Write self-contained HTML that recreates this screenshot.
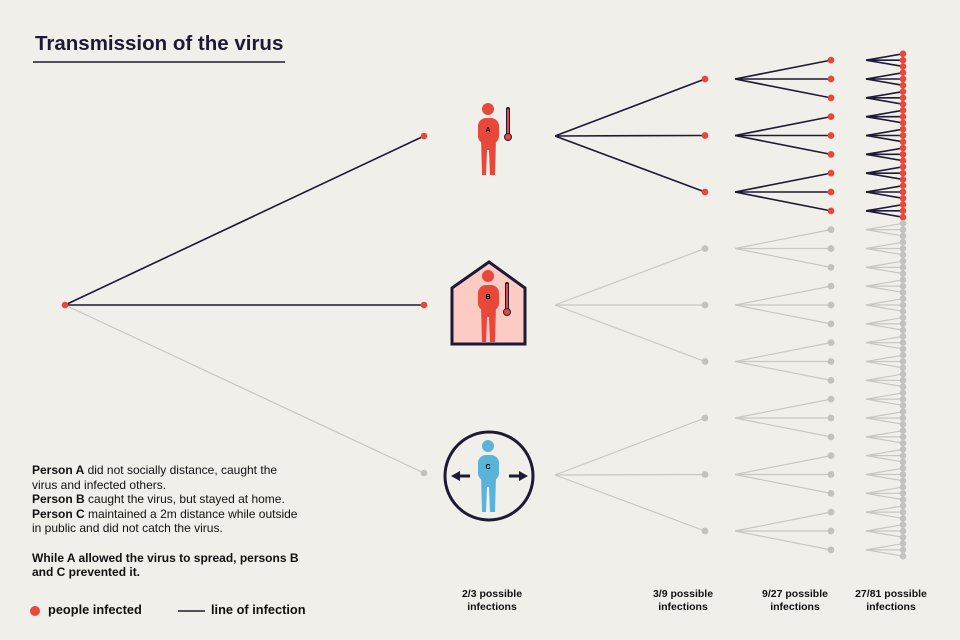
<!DOCTYPE html>
<html><head><meta charset="utf-8"><style>
html,body{margin:0;padding:0;background:#f1efea;}
body{width:960px;height:640px;overflow:hidden;position:relative;font-family:"Liberation Sans",sans-serif;color:#111;}
svg{position:absolute;left:0;top:0;}
.t{position:absolute;font-size:12px;line-height:14.6px;}
.lab{position:absolute;font-size:10.5px;font-weight:bold;text-align:center;line-height:12.5px;width:100px;}
</style></head><body>
<svg id="s" width="960" height="640" xmlns="http://www.w3.org/2000/svg">
<text x="35" y="50" font-family="Liberation Sans, sans-serif" font-weight="bold" font-size="20.5" fill="#1d1a35">Transmission of the virus</text>
<line x1="33" y1="62" x2="285" y2="62" stroke="#1d1a35" stroke-width="1.5"/>
<g id="g"></g>
<g fill="#e8483a">
<circle cx="488" cy="109" r="6"/>
<rect x="478" y="118" width="21" height="26" rx="8"/>
<polygon points="481,138 496,138 495,175 490,175 489,150 487,150 486,175 482,175"/>
</g>
<text x="488" y="132" font-size="7" font-weight="bold" text-anchor="middle" font-family="Liberation Sans,sans-serif">A</text>
<rect x="506" y="107" width="4" height="29" rx="2" fill="#1d1a35"/><rect x="507" y="109" width="2" height="26" fill="#e8483a"/><circle cx="508" cy="137" r="3.5" fill="#e8483a" stroke="#1d1a35" stroke-width="1"/>
<polygon points="452,288 489,262 525,288 525,344 452,344" fill="#fccbc4" stroke="#1d1a35" stroke-width="3"/>
<g fill="#e8483a">
<circle cx="488" cy="276" r="6"/>
<rect x="478" y="285" width="21" height="26" rx="8"/>
<polygon points="481,305 496,305 495,342 490,342 489,317 487,317 486,342 482,342"/>
</g>
<text x="488" y="299" font-size="7" font-weight="bold" text-anchor="middle" font-family="Liberation Sans,sans-serif">B</text>
<rect x="505" y="282" width="4" height="29" rx="2" fill="#1d1a35"/><rect x="506" y="284" width="2" height="26" fill="#e8483a"/><circle cx="507" cy="312" r="3.5" fill="#e8483a" stroke="#1d1a35" stroke-width="1"/>
<circle cx="489" cy="476" r="44" fill="none" stroke="#1d1a35" stroke-width="3"/>
<g fill="#5ab3d9">
<circle cx="488" cy="446" r="6"/>
<rect x="478" y="455" width="21" height="26" rx="8"/>
<polygon points="481,475 496,475 495,512 490,512 489,487 487,487 486,512 482,512"/>
</g>
<text x="488" y="469" font-size="7" font-weight="bold" text-anchor="middle" font-family="Liberation Sans,sans-serif">C</text>
<line x1="458" y1="476" x2="470" y2="476" stroke="#1d1a35" stroke-width="3"/><polygon points="451,476 460,471 460,481" fill="#1d1a35"/>
<line x1="509" y1="476" x2="521" y2="476" stroke="#1d1a35" stroke-width="3"/><polygon points="528,476 519,471 519,481" fill="#1d1a35"/>
<circle cx="35" cy="611" r="5" fill="#e8483a"/>
<line x1="178" y1="611" x2="205" y2="611" stroke="#1d1a35" stroke-width="1.5"/>
</svg>
<div class="t" style="left:32px;top:463px;">
<b>Person A</b> did not socially distance, caught the<br>virus and infected others.<br><b>Person B</b> caught the virus, but stayed at home.<br><b>Person C</b> maintained a 2m distance while outside<br>in public and did not catch the virus.<br><br><b>While A allowed the virus to spread, persons B<br>and C prevented it.</b></div>
<div class="t" style="left:48px;top:603px;font-weight:bold;font-size:12.8px;">people infected</div>
<div class="t" style="left:211px;top:603px;font-weight:bold;font-size:12.8px;">line of infection</div>
<div class="lab" style="left:442px;top:588px;">2/3 possible<br>infections</div>
<div class="lab" style="left:633px;top:588px;">3/9 possible<br>infections</div>
<div class="lab" style="left:745px;top:588px;">9/27 possible<br>infections</div>
<div class="lab" style="left:841px;top:588px;">27/81 possible<br>infections</div>
<script>
var g=document.getElementById('g'),h='';
var RED='#e8483a',DK='#1d1a35',GL='#c9c7c2',GD='#c4c2be';
function L(x1,y1,x2,y2,c){h+='<line x1="'+x1+'" y1="'+y1+'" x2="'+x2+'" y2="'+y2+'" stroke="'+c+'" stroke-width="'+(c==DK?1.6:1.2)+'"/>';}
function D(x,y,c,r){h+='<circle cx="'+x+'" cy="'+y+'" r="'+r+'" fill="'+c+'"/>';}
var l1=[136,305,473];
L(65,305,424,136,DK);L(65,305,424,305,DK);L(65,305,424,473,GL);
var dots=[];
for(var i=0;i<3;i++){dots.push([424,l1[i],i<2?RED:GD,3.3]);}
for(var i=0;i<9;i++){
 var y2=79+i*56.5, p=Math.floor(i/3), red=p==0;
 var c=red?DK:GL, dc=red?RED:GD;
 L(555,l1[p]+(p==2?2:0),705,y2,c);dots.push([705,y2,dc,3.4]);
 for(var j=0;j<3;j++){
  var y3=y2+(j-1)*18.85;
  L(735,y2,831,y3,c);dots.push([831,y3,dc,3.4]);
  for(var k=0;k<3;k++){var y4=y3+(k-1)*6.3;L(866,y3,903,y4,c);dots.push([903,y4,dc,3.3]);}
 }
}
dots.push([65,305,RED,3.3]);
dots.forEach(function(d){D(d[0],d[1],d[2],d[3]);});
g.innerHTML=h;
</script>
</body></html>
